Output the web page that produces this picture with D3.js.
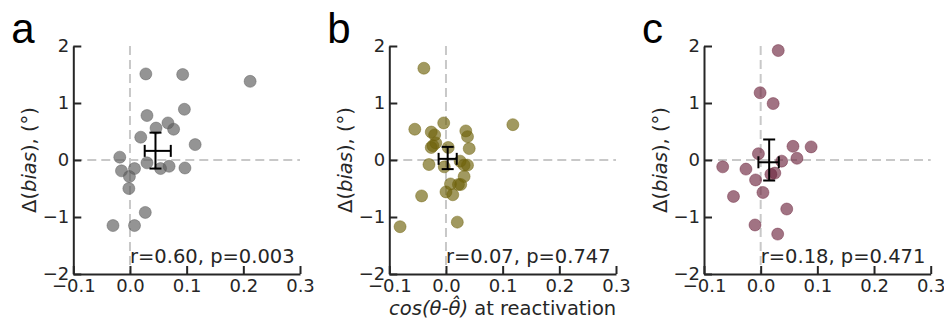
<!DOCTYPE html>
<html>
<head>
<meta charset="utf-8">
<script src="https://cdn.jsdelivr.net/npm/d3@7"></script>
<style>
  body { margin: 0; background: #fff; }
  svg { display: block; }
</style>
</head>
<body>
<div id="chart"></div>
<script>
// values
var xTicks = [-0.1, 0.0, 0.1, 0.2, 0.3];
var yTicks = [-2, -1, 0, 1, 2];

var aX = [0.028, 0.093, 0.212, 0.096, 0.030, 0.067, 0.046, 0.077, 0.019, 0.115, -0.018,
          0.030, -0.015, 0.008, 0.054, 0.069, 0.097, -0.001, -0.002, 0.027, -0.030, 0.008];
var aY = [1.51, 1.50, 1.38, 0.89, 0.78, 0.65, 0.56, 0.54, 0.40, 0.27, 0.05,
          -0.05, -0.19, -0.15, -0.15, -0.11, -0.14, -0.29, -0.50, -0.92, -1.15, -1.15];

var bX = [-0.039, -0.055, -0.004, -0.026, -0.020, -0.018, -0.026, -0.023, 0.004, 0.035, 0.038,
          0.041, 0.118, -0.030, -0.003, 0.025, 0.032, 0.038, 0.032, 0.008, 0.022, 0.026,
          0.000, 0.012, -0.043, 0.020, -0.081];
var bY = [1.61, 0.54, 0.65, 0.49, 0.44, 0.30, 0.22, 0.25, 0.22, 0.51, 0.41,
          0.20, 0.62, -0.08, -0.12, -0.02, -0.09, -0.09, -0.29, -0.42, -0.43, -0.43,
          -0.56, -0.61, -0.63, -1.09, -1.17];

var cX = [0.031, -0.001, 0.022, 0.057, 0.089, -0.004, 0.064, 0.037, -0.067, -0.026, 0.025,
          0.018, -0.009, 0.004, -0.048, 0.046, -0.010, 0.030];
var cY = [1.92, 1.18, 0.99, 0.24, 0.23, 0.11, 0.03, -0.02, -0.12, -0.16, -0.23,
          -0.25, -0.35, -0.57, -0.64, -0.86, -1.14, -1.30];

// mean and error extents per panel
var meanX = [0.045, 0.003, 0.015];
var meanY = [0.16, 0.02, -0.04];
var xLo = [0.026, -0.013, -0.004];
var xHi = [0.072, 0.019, 0.032];
var yLo = [-0.15, -0.16, -0.36];
var yHi = [0.48, 0.23, 0.36];

var panelNames = ["a", "b", "c"];
var statText = ["r=0.60, p=0.003", "r=0.07, p=0.747", "r=0.18, p=0.471"];
var dotColors = ["#5a5a5a", "#6e620a", "#6e2841"];

var panels = [
  {x: aX, y: aY},
  {x: bX, y: bY},
  {x: cX, y: cY}
];

var W = 944, H = 323;
var svg = d3.select("#chart").append("svg")
  .attr("width", W).attr("height", H);

var axisColor = "#262626";
var left = [73.3, 389.3, 704];
var plotW = 226.7;

var y = d3.scaleLinear().domain([-2, 2]).range([274, 46]);

panels.forEach(function (p, i) {
  var x = d3.scaleLinear().domain([-0.1, 0.3]).range([left[i], left[i] + plotW]);
  var g = svg.append("g");

  // dashed reference lines
  g.append("line")
    .attr("x1", x(0)).attr("x2", x(0))
    .attr("y1", y(2)).attr("y2", y(-2))
    .attr("stroke", "#c8c8c8").attr("stroke-width", 2)
    .attr("stroke-dasharray", "9,5");
  g.append("line")
    .attr("x1", x(-0.1)).attr("x2", x(0.3))
    .attr("y1", y(0)).attr("y2", y(0))
    .attr("stroke", "#c8c8c8").attr("stroke-width", 2)
    .attr("stroke-dasharray", "9,5");

  // points
  g.selectAll("circle.dot")
    .data(p.x.map(function (d, k) { return [d, p.y[k]]; }))
    .enter().append("circle")
      .attr("class", "dot")
      .attr("cx", function (d) { return x(d[0]); })
      .attr("cy", function (d) { return y(d[1]); })
      .attr("r", 6)
      .attr("fill", dotColors[i])
      .attr("fill-opacity", 0.65)
      .attr("stroke", dotColors[i])
      .attr("stroke-opacity", 0.45)
      .attr("stroke-width", 1);

  // error bars
  var cap = 6;
  var eb = g.append("g").attr("stroke", "#000").attr("stroke-width", 2).attr("fill", "none");
  eb.append("line")
    .attr("x1", x(meanX[i])).attr("x2", x(meanX[i]))
    .attr("y1", y(yLo[i])).attr("y2", y(yHi[i]));
  eb.append("line")
    .attr("x1", x(meanX[i]) - cap).attr("x2", x(meanX[i]) + cap)
    .attr("y1", y(yLo[i])).attr("y2", y(yLo[i]));
  eb.append("line")
    .attr("x1", x(meanX[i]) - cap).attr("x2", x(meanX[i]) + cap)
    .attr("y1", y(yHi[i])).attr("y2", y(yHi[i]));
  eb.append("line")
    .attr("x1", x(xLo[i])).attr("x2", x(xHi[i]))
    .attr("y1", y(meanY[i])).attr("y2", y(meanY[i]));
  eb.append("line")
    .attr("x1", x(xLo[i])).attr("x2", x(xLo[i]))
    .attr("y1", y(meanY[i]) - cap).attr("y2", y(meanY[i]) + cap);
  eb.append("line")
    .attr("x1", x(xHi[i])).attr("x2", x(xHi[i]))
    .attr("y1", y(meanY[i]) - cap).attr("y2", y(meanY[i]) + cap);

  // axes (ticks point inward)
  var yAxis = d3.axisLeft(y).tickValues(yTicks).tickFormat(d3.format("d"))
    .tickSizeInner(-8).tickSizeOuter(0).tickPadding(4);
  var xAxis = d3.axisBottom(x).tickValues(xTicks).tickFormat(d3.format(".1f"))
    .tickSizeInner(-8).tickSizeOuter(0).tickPadding(5);

  var ya = g.append("g").attr("transform", "translate(" + left[i] + ",0)").call(yAxis);
  var xa = g.append("g").attr("transform", "translate(0," + y(-2) + ")").call(xAxis);
  [ya, xa].forEach(function (a) {
    a.selectAll("path.domain").attr("stroke", axisColor).attr("stroke-width", 2);
    a.selectAll(".tick line").attr("stroke", axisColor).attr("stroke-width", 2);
    a.selectAll(".tick text")
      .attr("fill", axisColor)
      .style("font-family", "DejaVu Sans")
      .style("font-size", "18px");
  });

  // stats text
  g.append("text")
    .attr("x", x(0)).attr("y", y(-1.8))
    .attr("fill", axisColor)
    .style("font-family", "DejaVu Sans")
    .style("font-size", "19.5px")
    .text(statText[i]);

  // y label
  var yl = g.append("text")
    .attr("transform", "translate(" + (left[i] - 37) + "," + y(0) + ") rotate(-90)")
    .attr("text-anchor", "middle")
    .attr("fill", axisColor)
    .style("font-family", "DejaVu Sans")
    .style("font-size", "19.5px");
  yl.append("tspan").text("\u0394(");
  yl.append("tspan").style("font-style", "italic").text("bias");
  yl.append("tspan").text("), (\u00b0)");

  // panel letter
  g.append("text")
    .attr("x", left[i] - 62).attr("y", 43)
    .attr("fill", "#000")
    .style("font-family", "Liberation Sans, Arial, sans-serif")
    .style("font-size", "42px")
    .text(panelNames[i]);
});

// x label under middle panel
var xl = svg.append("text")
  .attr("x", left[1] + plotW / 2).attr("y", 315)
  .attr("text-anchor", "middle")
  .attr("fill", axisColor)
  .style("font-family", "DejaVu Sans")
  .style("font-size", "19.5px");
xl.append("tspan").style("font-style", "italic").text("cos(\u03b8-\u03b8\u0302)");
xl.append("tspan").text(" at reactivation");
</script>
</body>
</html>
